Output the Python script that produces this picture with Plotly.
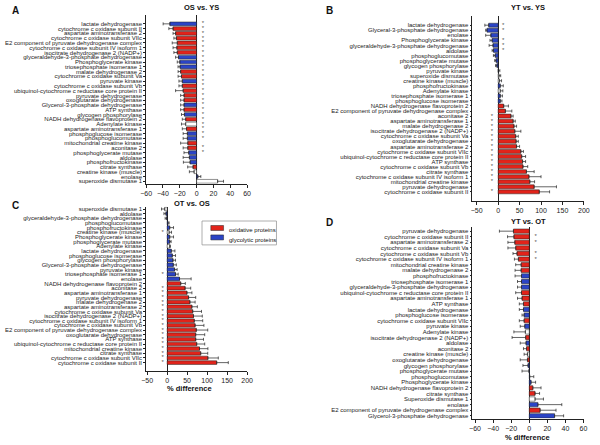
import plotly.graph_objects as go

# ---------------- data ----------------
a_names = ["lactate dehydrogenase", "cytochrome c oxidase subunit II", "aspartate aminotransferase 2",
           "cytochrome c oxidase subunit VIIc", "E2 component of pyruvate dehydrogenase complex",
           "cytochrome c oxidase subunit IV isoform 1", "isocitrate dehydrogenase 2 (NADP+)",
           "glyceraldehyde-3-phosphate dehydrogenase", "Phosphoglycerate kinase", "triosephosphate isomerase 1",
           "malate dehydrogenase 2", "cytochrome c oxidase subunit Va", "pyruvate kinase",
           "cytochrome c oxidase subunit Vb", "ubiquinol-cytochrome c reductase core protein II",
           "pyruvate dehydrogenase", "oxoglutarate dehydrogenase", "Glycerol-3-phosphate dehydrogenase",
           "ATP synthase", "glycogen phosphorylase", "NADH dehydrogenase flavoprotein 2", "Adenylate kinase",
           "aspartate aminotransferase 1", "phosphoglucose isomerase", "phosphoglucomutase",
           "mitochondrial creatine kinase", "aconitase 2", "phosphoglycerate mutase", "aldolase",
           "phosphofructokinase", "citrate synthase", "creatine kinase (muscle)", "enolase",
           "superoxide dismutase 1"]
a_vals = [-31.8, -28, -25, -24, -23, -23.5, -23, -21.5, -20, -19.6, -19, -18, -17, -17, -16, -15, -15, -15,
          -15, -14.5, -13, -13, -12, -11, -11, -10.5, -10.5, -9.4, -8.6, -7.8, -4.3, -3, 1.5, 25]
a_err = [8, 5, 3, 3, 6, 4.5, 4, 3.5, 3, 2.5, 3, 4, 4, 4, 9, 4, 4, 4, 4, 3.5, 4, 5, 5, 5, 5, 8.5, 5.5, 5.6,
         7.4, 7.9, 6.3, 5.6, 3.5, 7]
a_sig = [1] * 25 + [0, 1, 1] + [0] * 6

b_names = ["lactate dehydrogenase", "Glyceral-3-phosphate dehydrogenase", "enolase", "Phosphoglycerate kinase",
           "glyceraldehyde-3-phosphate dehydrogenase", "aldolase", "phosphoglucomutase",
           "phosphoglycerate mutase", "glycogen phosphorylase", "pyruvate kinase", "superoxide dismutase",
           "creatine kinase (muscle)", "phosphofructokinase", "Adenylate kinase", "triosephosphate isomerase 1",
           "phosphoglucose isomerase", "NADH dehydrogenase flavoprotein 2",
           "E2 component of pyruvate dehydrogenase complex", "aconitase 2", "aspartate aminotransferase 1",
           "malate dehydrogenase 2", "isocitrate dehydrogenase 2 (NADP+)", "cytochrome c oxidase subunit Va",
           "oxoglutarate dehydrogenase", "aspartate aminotransferase 2", "cytochrome c oxidase subunit VIIc",
           "ubiquinol-cytochrome c reductase core protein II", "ATP synthase", "cytochrome c oxidase subunit Vb",
           "citrate synthase", "cytochrome c oxidase subunit IV isoform 1", "mitochondrial creatine kinase",
           "pyruvate dehydrogenase", "cytochrome c oxidase subunit II"]
b_vals = [-22, -26, -17, -14, -12, -11, -7, -5, -3, 0.5, 2, 3, 5, 5, 5, 5, 13, 17, 30, 35, 37, 39, 41, 42,
          43, 53, 55, 57, 58, 66, 72, 74, 84, 96]
b_err = [9, 3, 12, 5, 9, 3, 4, 3, 3, 3.5, 4, 5, 7, 6, 5, 4, 11, 15, 5, 5, 6, 14, 6, 5, 7, 6, 9, 7, 11, 18,
         28, 11, 52, 24]
b_sig = [1, 1, 0, 1, 1, 1] + [0] * 12 + [1] * 14 + [0, 1]

c_names = ["superoxide dismutase 1", "aldolase", "glyceraldehyde-3-phosphate dehydrogenase",
           "phosphoglucomutase", "phosphofructokinase", "creatine kinase (muscle)", "Phosphoglycerate kinase",
           "phosphoglycerate mutase", "Adenylate kinase", "lactate dehydrogenase", "phosphoglucose isomerase",
           "glycogen phosphorylase", "Glycerol-3-phosphate dehydrogenase", "pyruvate kinase",
           "triosephosphate isomerase 1", "enolase", "NADH dehydrogenase flavoprotein 2", "aconitase 2",
           "aspartate aminotransferase 1", "pyruvate dehydrogenase", "malate dehydrogenase 2",
           "aspartate aminotransferase 2", "cytochrome c oxidase subunit Va", "isocitrate dehydrogenase 2 (NADP+)",
           "cytochrome c oxidase subunit IV isoform 1", "cytochrome c oxidase subunit Vb",
           "E2 component of pyruvate dehydrogenase complex", "oxoglutarate dehydrogenase", "ATP synthase",
           "ubiquinol-cytochrome c reductase core protein II", "mitochondrial creatine kinase", "citrate synthase",
           "cytochrome c oxidase subunit VIIc", "cytochrome c oxidase subunit II"]
c_vals = [-6, -3, -1, 2, 6.5, 5, 6.5, 6.5, 6.5, 10.5, 13, 14.6, 15.5, 18.7, 21, 31, 34, 45, 49.6, 53.7, 57,
          62, 64, 66, 68, 70, 73, 71.5, 71.5, 74, 81, 84, 102, 124]
c_err = [8, 5, 4, 3, 9.5, 6, 9.5, 3.5, 1.5, 9, 8, 6.4, 7.5, 6.3, 6.6, 29, 11.5, 14, 12.4, 17.8, 13, 13.6,
         22, 22, 21, 22, 28.6, 22.5, 19.5, 20, 21, 17.6, 26, 29]
c_sig = [0] * 5 + [1] + [0] * 8 + [1] + [0] * 2 + [1] * 17

d_names = ["pyruvate dehydrogenase", "cytochrome c oxidase subunit II", "aspartate aminotransferase 2",
           "cytochrome c oxidase subunit Va", "cytochrome c oxidase subunit Vb",
           "cytochrome c oxidase subunit IV isoform 1", "mitochondrial creatine kinase", "malate dehydrogenase 2",
           "phosphofructokinase", "triosephosphate isomerase 1", "glyceraldehyde-3-phosphate dehydrogenase",
           "ubiquinol-cytochrome c reductase core protein II", "aspartate aminotransferase 1", "ATP synthase",
           "lactate dehydrogenase", "phosphoglucose isomerase", "cytochrome c oxidase subunit VIIc",
           "pyruvate kinase", "Adenylate kinase", "isocitrate dehydrogenase 2 (NADP+)", "aldolase",
           "aconitase 2", "creatine kinase (muscle)", "oxoglutarate dehydrogenase", "glycogen phosphorylase",
           "phosphoglycerate mutase", "phosphoglucomutase", "Phosphoglycerate kinase",
           "NADH dehydrogenase flavoprotein 2", "citrate synthase", "Superoxide dismutase 1", "enolase",
           "E2 component of pyruvate dehydrogenase complex", "Glycerol-3-phosphate dehydrogenase"]
d_vals = [-17.5, -17, -16, -15, -13.6, -12, -9, -9, -8.6, -8.6, -8.6, -8.6, -8, -6.4, -6.4, -5.7, -5.7, -5,
          -4.3, -4, -3.6, -3, -2, -2, -1.4, -0.3, 0.5, 2, 4, 6.4, 6.4, 9.6, 12, 28]
d_err = [15.5, 7, 7.6, 8.6, 4.4, 4.4, 6, 6.7, 7.1, 4.4, 4.4, 6.4, 5, 4.6, 4.6, 2.3, 5.3, 5, 12.7, 15, 6.4,
         3.4, 3.7, 8, 5.6, 7.7, 4.5, 5, 9, 5, 9.3, 26.4, 17.6, 10]
d_sig = [0, 1, 1, 0, 1, 1] + [0] * 28

glycolytic = {"lactate dehydrogenase", "glyceraldehyde-3-phosphate dehydrogenase", "phosphoglycerate kinase",
              "triosephosphate isomerase 1", "pyruvate kinase", "glycerol-3-phosphate dehydrogenase",
              "glyceral-3-phosphate dehydrogenase", "glycogen phosphorylase", "phosphoglucose isomerase",
              "phosphoglucomutase", "phosphoglycerate mutase", "aldolase", "phosphofructokinase", "enolase"}
other = {"adenylate kinase", "creatine kinase (muscle)", "superoxide dismutase 1", "superoxide dismutase"}

RED = "#e2231a"
BLUE = "#2b44c6"
WHITE = "#ffffff"
FONT = "Liberation Sans, Arial, sans-serif"


def colour(n):
    k = n.lower()
    if k in glycolytic:
        return BLUE
    if k in other:
        return WHITE
    return RED


W, H = 600, 445


def fx(p):
    return p / W


def fy(p):
    return 1 - p / H


panels = [
    (a_names, a_vals, a_err, a_sig, (143, 246), (14.5, 183.5), (-60, 60), [-60, -40, -20, 0, 20, 40, 60], (7.5, 7.5)),
    (b_names, b_vals, b_err, b_sig, (476, 589.7), (15, 201), (-59.8, 200), [-50, 0, 50, 100, 150, 200], (11.5, -14.5)),
    (c_names, c_vals, c_err, c_sig, (143, 246), (206.6, 371.5), (-52.5, 200), [-50, 0, 50, 100, 150, 200], (-11, -11)),
    (d_names, d_vals, d_err, d_sig, (476, 589.3), (227.2, 419.5), (-62.8, 60), [-60, -40, -20, 0, 20, 40, 60], (7, 7)),
]

fig = go.Figure()
layout = {}
for i, (names, vals, errs, sig, xd, yd, xr, ticks, starx) in enumerate(panels):
    sfx = "" if i == 0 else str(i + 1)
    xa, ya = "x" + sfx, "y" + sfx
    plus = [e if v >= 0 else 0 for v, e in zip(vals, errs)]
    minus = [e if v < 0 else 0 for v, e in zip(vals, errs)]
    fig.add_trace(go.Bar(
        x=vals, y=names, orientation="h", xaxis=xa, yaxis=ya,
        marker=dict(color=[colour(n) for n in names], line=dict(color="#222", width=0.5)),
        width=0.78,
        error_x=dict(type="data", symmetric=False, array=plus, arrayminus=minus,
                     color="#222", thickness=0.7, width=1.5),
        showlegend=False, hoverinfo="x+y"))
    sx = [starx[0] if v < 0 else starx[1] for v, s in zip(vals, sig) if s]
    sy = [n for n, s in zip(names, sig) if s]
    fig.add_trace(go.Scatter(
        x=sx, y=sy, mode="text", text=["*"] * len(sy), xaxis=xa, yaxis=ya,
        textfont=dict(size=6, color="#555", family=FONT), showlegend=False, hoverinfo="skip"))
    layout["xaxis" + sfx] = dict(
        domain=[fx(xd[0]), fx(xd[1])], range=list(xr), anchor=ya, tickvals=ticks,
        showline=True, linecolor="#222", linewidth=0.8, ticks="outside", ticklen=3, tickcolor="#222",
        tickwidth=0.8, showgrid=False, zeroline=True, zerolinecolor="#222", zerolinewidth=0.7,
        tickfont=dict(size=7, color="#222", family=FONT))
    layout["yaxis" + sfx] = dict(
        domain=[fy(yd[1]), fy(yd[0])], anchor=xa, type="category", autorange="reversed",
        tickmode="array", tickvals=names, ticktext=names,
        showline=True, linecolor="#222", linewidth=0.8, ticks="outside", ticklen=2, tickcolor="#222",
        tickwidth=0.6, showgrid=False, tickfont=dict(size=6.0, color="#222", family=FONT))

ann = []


def txt(x, y, t, size, bold=False, anchor="center"):
    ann.append(dict(x=fx(x), y=fy(y), xref="paper", yref="paper", text=("<b>%s</b>" % t) if bold else t,
                    showarrow=False, xanchor=anchor, yanchor="middle",
                    font=dict(size=size, color="#111", family=FONT)))


txt(4, 10, "A", 10, True, "left")
txt(324, 10, "B", 10, True, "left")
txt(4, 205, "C", 10, True, "left")
txt(324, 222, "D", 10, True, "left")
txt(199, 7, "OS vs. YS", 7.5, True)
txt(533, 7, "YT vs. YS", 7.5, True)
txt(190, 203, "OT vs. OS", 7.5, True)
txt(533, 221, "YT vs. OT", 7.5, True)
txt(187, 389, "% difference", 7.5, True)
txt(532, 438, "% difference", 7.5, True)
txt(226, 230.5, "oxidative proteins", 6, False, "left")
txt(226, 240, "glycolytic proteins", 6, False, "left")

shapes = [
    dict(type="rect", xref="paper", yref="paper", x0=fx(200), x1=fx(276), y0=fy(245), y1=fy(221),
         line=dict(color="#999", width=0.8), fillcolor="white"),
    dict(type="rect", xref="paper", yref="paper", x0=fx(209), x1=fx(222), y0=fy(230.5), y1=fy(225.5),
         line=dict(color="#222", width=0.5), fillcolor=RED),
    dict(type="rect", xref="paper", yref="paper", x0=fx(209), x1=fx(222), y0=fy(240), y1=fy(235),
         line=dict(color="#222", width=0.5), fillcolor=BLUE),
]

fig.update_layout(width=W, height=H, margin=dict(l=0, r=0, t=0, b=0), paper_bgcolor="white",
                  plot_bgcolor="white", bargap=0.2, annotations=ann, shapes=shapes,
                  font=dict(family=FONT), **layout)
fig.write_html("out.html", config={"displayModeBar": False},
               post_script="document.body.style.margin='0';document.body.style.overflow='hidden';")
